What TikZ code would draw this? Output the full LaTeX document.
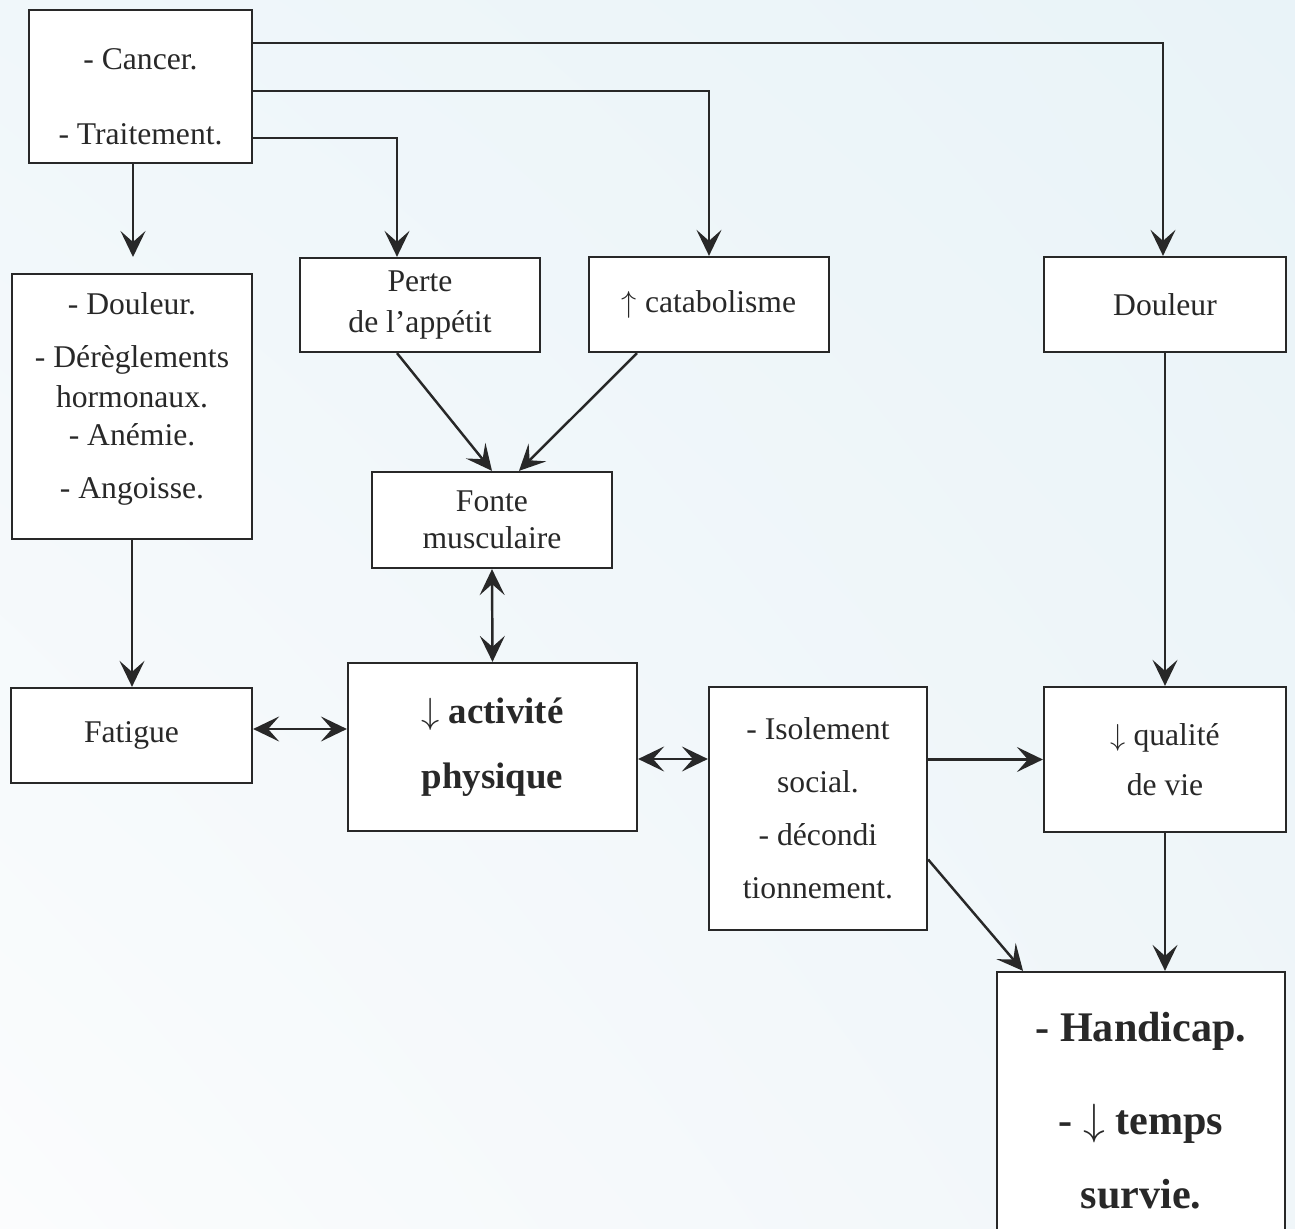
\documentclass[tikz,border=0pt]{standalone}
\usepackage{fontspec}
\setmainfont{Liberation Serif}
\usetikzlibrary{arrows.meta,shadings}
\definecolor{ink}{RGB}{40,40,40}
\definecolor{bgA}{RGB}{240,247,250}
\definecolor{bgB}{RGB}{233,243,248}
\definecolor{bgC}{RGB}{251,252,253}
\definecolor{bgD}{RGB}{240,246,249}
\begin{document}
\begin{tikzpicture}[x=0.02cm,y=-0.02cm,
  box/.style={draw=ink, fill=white, line width=1.3pt, inner sep=0pt, align=center, text=ink, font=\fontsize{18}{18}\selectfont},
  lbl/.style={inner sep=0pt, align=center, text=ink, font=\fontsize{18}{18}\selectfont},
  arr/.style={draw=ink, line width=1.4pt, -{Stealth[length=0.52cm,width=0.5cm,inset=0.22cm]}},
  darr/.style={draw=ink, line width=1.4pt, {Stealth[length=0.52cm,width=0.5cm,inset=0.22cm]}-{Stealth[length=0.52cm,width=0.5cm,inset=0.22cm]}}]
\useasboundingbox (0,0) rectangle (1295,1229);
\clip (0,0) rectangle (1295,1229);
\shade[upper left=bgA, upper right=bgB, lower left=bgC, lower right=bgD] (0,0) rectangle (1295,1229);

% boxes
\node[box, minimum width=4.46cm, minimum height=3.06cm] (cancer) at (140.5,86.5) {};
\node[lbl] (cancerT) at (140.5,97) {- Cancer.\\[0.865cm]- Traitement.};
\node[box, minimum width=4.8cm, minimum height=5.3cm] (causes) at (132,406.5) {};
\node[lbl] (causesT) at (132,399)
  {- Douleur.\\[0.425cm]- Dérèglements\\[0.17cm]hormonaux.\\[0.12cm]- Anémie.\\[0.44cm]- Angoisse.};
\node[box, minimum width=4.8cm, minimum height=1.88cm] (perte) at (420,305) {Perte\\[0.2cm]de l’appétit};
\node[box, minimum width=4.8cm, minimum height=1.9cm] (catab) at (709,304.5) {$\uparrow$ catabolisme};
\node[box, minimum width=4.84cm, minimum height=1.9cm] (douleurR) at (1165,304.5) {Douleur};
\node[box, minimum width=4.8cm, minimum height=1.92cm] (fonte) at (492,520) {Fonte\\[0.105cm]musculaire};
\node[box, minimum width=4.82cm, minimum height=1.9cm] (fatigue) at (131.5,735.5) {Fatigue};
\node[box, minimum width=5.78cm, minimum height=3.36cm, font=\fontsize{21}{21}\selectfont\bfseries] (activite) at (492.5,747)
  {$\downarrow$ activité\\[0.56cm]physique};
\node[box, minimum width=4.36cm, minimum height=4.86cm] (isol) at (818,808.5)
  {- Isolement\\[0.425cm]social.\\[0.425cm]- décondi\\[0.425cm]tionnement.};
\node[box, minimum width=4.84cm, minimum height=2.9cm] (qualite) at (1165,759.5) {$\downarrow$ qualité\\[0.365cm]de vie};
\node[box, minimum width=5.76cm, minimum height=5.56cm, font=\fontsize{24}{24}\selectfont\bfseries] (handicap) at (1141,1111)
  {- Handicap.\\[1.01cm]- $\downarrow$ temps\\[0.65cm]survie.};

% helper coordinates
\coordinate (k0) at (133,257);
\coordinate (k1) at (397,138);
\coordinate (k2) at (709,91);
\coordinate (k3) at (1163,43);
\coordinate (ya) at (0,729);
\coordinate (yb) at (0,759);

% connectors
\draw[arr] (cancer.south -| k0) -- (k0);
\draw[arr] (cancer.east |- k1) -| (k1 |- perte.north);
\draw[arr] (cancer.east |- k2) -| (catab.north);
\draw[arr] (cancer.east |- k3) -| (k3 |- douleurR.north);
\draw[arr] (causes.south) -- (causes.south |- fatigue.north);
\draw[arr] (k1 |- perte.south) -- (fonte.north);
\draw[arr] ([xshift=-1.44cm]catab.south) -- ([xshift=0.54cm]fonte.north);
\draw[darr] (fonte.south) -- (activite.north);
\draw[darr] (fatigue.east |- ya) -- (activite.west |- ya);
\draw[darr] (activite.east |- yb) -- (isol.west |- yb);
\draw[arr] (isol.east |- qualite.west) -- (qualite.west);
\draw[arr] (douleurR.south) -- (qualite.north);
\draw[arr] (qualite.south) -- (qualite.south |- handicap.north);
\draw[arr] ([yshift=-1.02cm]isol.east) -- ([xshift=-2.36cm]handicap.north);
\end{tikzpicture}
\end{document}
